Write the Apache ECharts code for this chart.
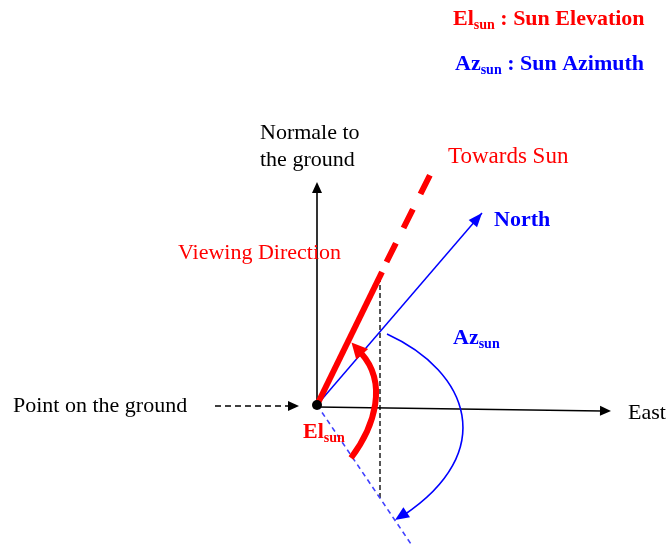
<!DOCTYPE html>
<html><head><meta charset="utf-8">
<script src="https://cdn.jsdelivr.net/npm/echarts@6/dist/echarts.min.js"></script>
<style>html,body{margin:0;padding:0;background:#fff}#c{width:671px;height:544px}</style>
</head><body><div id="c"></div>
<script>
// Diagram geometry (diagram units, y grows downward)
const groundPoint = [317, 405];
const normalTip = [317, 182];
const eastStart = [317, 407];
const eastTip = [611, 411];
const groundArrowFrom = [215, 406];
const groundArrowTip = [299, 406];
const sunSolidEnd = [382, 272];
const sunDashStart = [386.5, 262];
const sunFarEnd = [432, 171];
const northTip = [482, 213];
const projectionEnd = [411, 544];
const verticalDashTop = [380, 277];
const verticalDashBottom = [380, 499];
const elevationCurve = [[351, 458], [375, 426], [388, 383], [361, 353]];
const elevationTip = [351.5, 342.5];
const azimuthCurve = [[387, 334], [470, 372], [498, 452], [404, 515]];
const azimuthTip = [395, 520];

// Texts
const legendTexts = ['El', 'sun', ' : Sun Elevation', 'Az', 'sun', ' : Sun Azimuth'];
const normalLabel = ['Normale to', 'the ground'];
const sunLabel = 'Towards Sun';
const northLabel = 'North';
const viewLabel = 'Viewing Direction';
const groundLabel = 'Point on the ground';
const eastLabel = 'East';

const RED = '#ff0000', BLUE = '#0000ff', BLACK = '#000000';
const SERIF = '"Liberation Serif","Times New Roman",serif';

function renderDiagram(params, api) {
  const P = p => api.coord(p);
  const kids = [];
  function line(a, b, style) {
    const A = P(a), B = P(b);
    kids.push({type: 'line', shape: {x1: A[0], y1: A[1], x2: B[0], y2: B[1]}, style: Object.assign({fill: null}, style)});
  }
  function head(tip, from, len, hw, color) {
    const T = P(tip), F = P(from);
    let dx = T[0] - F[0], dy = T[1] - F[1];
    const L = Math.hypot(dx, dy); dx /= L; dy /= L;
    const bx = T[0] - dx * len, by = T[1] - dy * len;
    kids.push({type: 'polygon', shape: {points: [[T[0], T[1]], [bx - dy * hw, by + dx * hw], [bx + dy * hw, by - dx * hw]]}, style: {fill: color}});
  }
  function bez(c, style) {
    const a = P(c[0]), b = P(c[1]), d = P(c[2]), e = P(c[3]);
    kids.push({type: 'bezierCurve', shape: {x1: a[0], y1: a[1], cpx1: b[0], cpy1: b[1], cpx2: d[0], cpy2: d[1], x2: e[0], y2: e[1]}, style: Object.assign({fill: null}, style)});
  }
  function text(str, pt, style, rich) {
    const A = P(pt);
    kids.push({type: 'text', x: A[0], y: A[1], style: Object.assign({text: str, align: 'left', verticalAlign: 'middle', fontFamily: SERIF, fontSize: 22, rich: rich}, style)});
  }
  line(verticalDashTop, verticalDashBottom, {stroke: '#555', lineWidth: 2, lineDash: [5, 3]});
  line(groundPoint, projectionEnd, {stroke: '#4040ff', lineWidth: 1.6, lineDash: [5, 4]});
  line(groundPoint, [normalTip[0], normalTip[1] + 9], {stroke: BLACK, lineWidth: 1.6});
  head(normalTip, groundPoint, 11, 5, BLACK);
  line(eastStart, [eastTip[0] - 9, eastTip[1]], {stroke: BLACK, lineWidth: 1.6});
  head(eastTip, eastStart, 11, 5, BLACK);
  line(groundArrowFrom, [groundArrowTip[0] - 9, groundArrowTip[1]], {stroke: BLACK, lineWidth: 1.4, lineDash: [6, 4]});
  head(groundArrowTip, groundArrowFrom, 11, 5, BLACK);
  line(groundPoint, northTip, {stroke: BLUE, lineWidth: 1.5});
  head(northTip, groundPoint, 14, 5.5, BLUE);
  line(groundPoint, sunSolidEnd, {stroke: RED, lineWidth: 6});
  line(sunDashStart, sunFarEnd, {stroke: RED, lineWidth: 6, lineDash: [21, 17], lineCap: 'butt'});
  bez(elevationCurve, {stroke: RED, lineWidth: 6});
  head(elevationTip, elevationCurve[2], 16, 8, RED);
  bez(azimuthCurve, {stroke: BLUE, lineWidth: 1.6});
  head(azimuthTip, azimuthCurve[2], 14, 6, BLUE);
  const G = P(groundPoint);
  kids.push({type: 'circle', shape: {cx: G[0], cy: G[1], r: 5}, style: {fill: BLACK}});

  const subRich = c => ({
    b: {fontFamily: SERIF, fontSize: 22, fontWeight: 'bold', fill: c, lineHeight: 26},
    s: {fontFamily: SERIF, fontSize: 14, fontWeight: 'bold', fill: c, lineHeight: 12, verticalAlign: 'bottom'}
  });
  text('{b|' + legendTexts[0] + '}{s|' + legendTexts[1] + '}{b|' + legendTexts[2] + '}', [453, 19], {fill: RED}, subRich(RED));
  text('{b|' + legendTexts[3] + '}{s|' + legendTexts[4] + '}{b|' + legendTexts[5] + '}', [455, 64], {fill: BLUE}, subRich(BLUE));
  text(normalLabel[0], [260, 133], {fill: BLACK});
  text(normalLabel[1], [260, 160], {fill: BLACK});
  text(sunLabel, [448, 157], {fill: RED, fontSize: 23});
  text(northLabel, [494, 220], {fill: BLUE, fontWeight: 'bold'});
  text(viewLabel, [178, 253], {fill: RED});
  text('{b|' + legendTexts[3] + '}{s|' + legendTexts[4] + '}', [453, 338], {fill: BLUE}, subRich(BLUE));
  text(groundLabel, [13, 406], {fill: BLACK});
  text(eastLabel, [628, 413], {fill: BLACK});
  text('{b|' + legendTexts[0] + '}{s|' + legendTexts[1] + '}', [303, 432], {fill: RED}, subRich(RED));
  return {type: 'group', children: kids};
}

const chart = echarts.init(document.getElementById('c'), null, {renderer: 'canvas'});
chart.setOption({
  backgroundColor: '#ffffff',
  animation: false,
  grid: {left: 0, right: 0, top: 0, bottom: 0},
  xAxis: {type: 'value', min: 0, max: 671, show: false},
  yAxis: {type: 'value', min: 0, max: 544, inverse: true, show: false},
  series: [{
    type: 'custom',
    silent: true,
    clip: false,
    data: [[0, 0]],
    renderItem: renderDiagram
  }]
});
</script></body></html>
